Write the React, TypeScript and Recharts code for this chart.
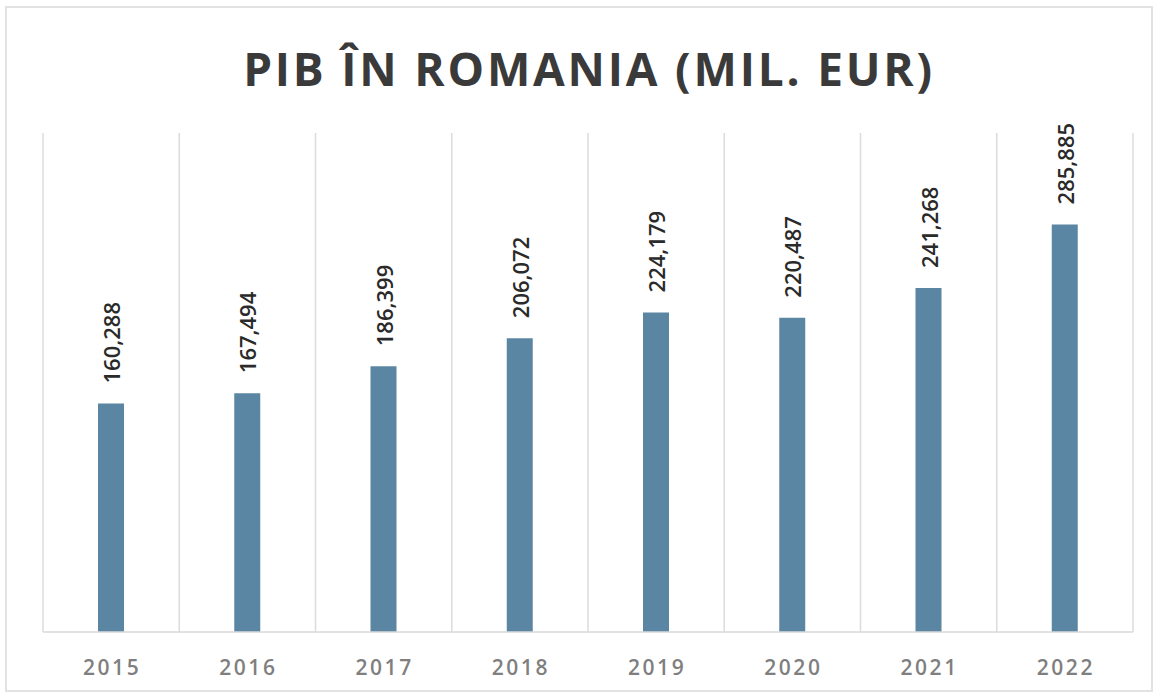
import React from 'react';
import { BarChart, Bar, XAxis, YAxis, CartesianGrid, LabelList } from 'recharts';

const years = ['2015', '2016', '2017', '2018', '2019', '2020', '2021', '2022'];
const gdp = [160288, 167494, 186399, 206072, 224179, 220487, 241268, 285885];
const titleText = 'PIB ÎN ROMANIA (MIL. EUR)';

const data = years.map((y, i) => ({ year: y, value: gdp[i] }));

const fmt = (v: number) => v.toLocaleString('en-US');

const ValueLabel = (props: any) => {
  const { x, y, width, value } = props;
  const cx = x + width / 2;
  const ty = y - 20;
  return (
    <text
      transform={`translate(${cx}, ${ty}) rotate(-90)`}
      textAnchor="start"
      dominantBaseline="central"
      fontFamily="'Open Sans', sans-serif"
      fontSize={22}
      fontWeight={600}
      fill="#2a2a2a"
    >
      {fmt(value)}
    </text>
  );
};

const YearTick = (props: any) => {
  const { x, y, payload } = props;
  return (
    <text
      x={x + 1}
      y={y}
      dy={35}
      textAnchor="middle"
      fontFamily="'Open Sans', sans-serif"
      fontSize={21}
      fontWeight={600}
      letterSpacing={2.5}
      fill="#7f7f7f"
    >
      {payload.value}
    </text>
  );
};

export default function App() {
  return (
    <div
      style={{
        position: 'absolute',
        left: 0,
        top: 0,
        width: 1159,
        height: 698,
        background: '#ffffff',
      }}
    >
      <div
        style={{
          position: 'absolute',
          left: 5,
          top: 6,
          width: 1148,
          height: 686,
          border: '2px solid #e2e2e2',
          boxSizing: 'border-box',
        }}
      />
      <div
        style={{
          position: 'absolute',
          left: 0,
          top: 38,
          width: 1178,
          textAlign: 'center',
          fontFamily: "'Open Sans', sans-serif",
          fontWeight: 700,
          fontSize: 46,
          letterSpacing: 2.8,
          color: '#3a3a3a',
          lineHeight: '60px',
        }}
      >
        {titleText}
      </div>
      <div style={{ position: 'absolute', left: 0, top: 0 }}>
        <BarChart
          width={1159}
          height={698}
          data={data}
          margin={{ top: 133, right: 26, bottom: 36, left: 43 }}
        >
          <CartesianGrid
            horizontal={false}
            stroke="#dcdcdc"
            strokeWidth={1.5}
            verticalCoordinatesGenerator={({ offset }: any) =>
              Array.from({ length: years.length + 1 }, (_, i) => offset.left + (i * offset.width) / years.length)
            }
          />
          <XAxis
            dataKey="year"
            height={30}
            axisLine={{ stroke: '#d9d9d9', strokeWidth: 1.5 }}
            tickLine={false}
            tick={<YearTick />}
            interval={0}
          />
          <YAxis hide domain={[0, 350000]} />
          <Bar dataKey="value" fill="#5b86a3" barSize={26} isAnimationActive={false}>
            <LabelList dataKey="value" content={<ValueLabel />} />
          </Bar>
        </BarChart>
      </div>
    </div>
  );
}
